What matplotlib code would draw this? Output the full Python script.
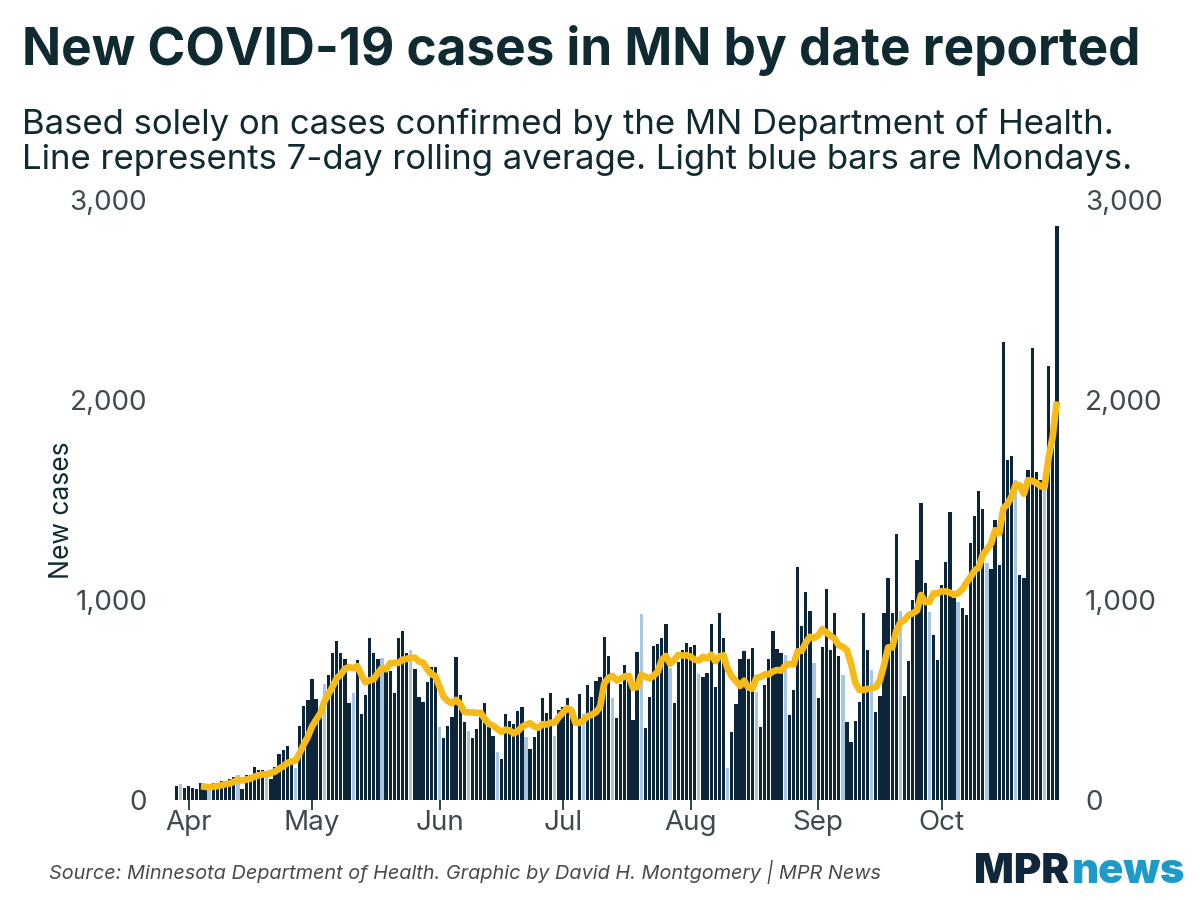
import matplotlib
matplotlib.use("Agg")
import matplotlib.pyplot as plt
import pandas as pd

plt.rcParams['font.family'] = ['Inter', 'DejaVu Sans']

# daily new cases by date reported, starting Sun 2020-03-29
start_date = "2020-03-29"
cases = [
    70, 80, 60, 70, 60, 55, 85, 55, 55, 87, 85, 95, 95, 105, 117, 125, 55, 123, 125, 167,
    150, 150, 130, 105, 165, 230, 250, 268, 200, 160, 370, 470, 500, 603, 505, 420, 578, 625, 737, 793,
    733, 703, 487, 537, 700, 430, 525, 812, 737, 707, 712, 650, 645, 537, 812, 847, 737, 750, 653, 513,
    492, 592, 667, 667, 367, 308, 370, 413, 713, 525, 392, 345, 308, 353, 417, 487, 367, 320, 238, 203,
    428, 395, 380, 447, 467, 317, 253, 313, 350, 508, 433, 533, 322, 450, 463, 508, 430, 0, 528, 430,
    575, 513, 597, 617, 813, 722, 508, 412, 580, 675, 635, 400, 742, 930, 358, 513, 770, 780, 812, 878,
    658, 487, 692, 750, 787, 763, 775, 628, 613, 637, 878, 563, 933, 812, 158, 342, 480, 703, 747, 703,
    762, 540, 367, 575, 707, 843, 757, 737, 723, 423, 550, 1163, 870, 1040, 943, 683, 510, 767, 1053, 750,
    933, 720, 627, 392, 290, 397, 492, 937, 750, 650, 438, 520, 937, 1108, 937, 1330, 945, 520, 697, 1000,
    1200, 1483, 1083, 942, 825, 700, 1075, 1192, 1442, 1008, 992, 962, 925, 1283, 1420, 1545, 1455, 1183, 1155, 1400,
    1175, 2290, 1700, 1720, 1600, 1125, 1110, 1650, 2260, 1640, 1600, 1560, 2170, 1850, 2870,
]
month_ticks = ["2020-04-01", "2020-05-01", "2020-06-01", "2020-07-01",
               "2020-08-01", "2020-09-01", "2020-10-01"]
month_labels = ["Apr", "May", "Jun", "Jul", "Aug", "Sep", "Oct"]
y_ticks = [0, 1000, 2000, 3000]

df = pd.DataFrame({"date": pd.date_range(start_date, periods=len(cases), freq="D"),
                   "cases": cases})
df["avg"] = df["cases"].rolling(7).mean()

dark = "#0c2538"
light = "#a8c6df"
gold = "#f7bb19"
text_dark = "#0f2a31"
text_grey = "#3e4a4f"

colors = [light if d.weekday() == 0 else dark for d in df["date"]]

fig = plt.figure(figsize=(12, 9), dpi=100)
ax = fig.add_axes([0.1417, 0.1111, 0.7433, 0.6667])

ax.bar(df["date"], df["cases"], width=0.8, color=colors, linewidth=0)
ax.plot(df["date"], df["avg"], color=gold, linewidth=4.8, solid_capstyle="butt")

ax.set_xlim(pd.Timestamp("2020-03-27 12:00"), pd.Timestamp("2020-10-30 06:00"))
ax.set_ylim(0, 3000)
ax.set_yticks(y_ticks)
ax.set_yticklabels([f"{v:,}" for v in y_ticks])
ax.set_xticks(pd.to_datetime(month_ticks))
ax.set_xticklabels(month_labels)

for s in ax.spines.values():
    s.set_visible(False)
ax.tick_params(axis="y", left=False, right=False, labelleft=True, labelright=True,
               labelsize=20, labelcolor=text_grey, pad=13)
ax.tick_params(axis="x", length=7, width=1.2, color=dark, labelsize=20,
               labelcolor=text_grey, pad=0)

fig.text(62 / 1200, 0.433, "New cases", rotation=90, fontsize=19, color=text_dark,
         ha="center", va="center")

fig.text(0.018, 0.944, "New COVID-19 cases in MN by date reported", fontsize=37,
         fontweight="bold", color=text_dark, va="center", ha="left")
fig.text(0.018, 0.842, "Based solely on cases confirmed by the MN Department of Health.\n"
         "Line represents 7-day rolling average. Light blue bars are Mondays.",
         fontsize=25, color=text_dark, va="center", ha="left", linespacing=1.1)
fig.text(0.041, 0.031, "Source: Minnesota Department of Health. Graphic by David H. Montgomery | MPR News",
         fontsize=14.3, style="italic", color="#4a4a4a", va="center", ha="left")
fig.text(0.812, 0.031, "MPR", fontsize=30, fontweight="black", color="#10263a",
         va="center", ha="left")
fig.text(0.893, 0.031, "news", fontsize=30, fontweight="black", color="#1c9bc9",
         va="center", ha="left")

fig.savefig("out.png", dpi=100)
